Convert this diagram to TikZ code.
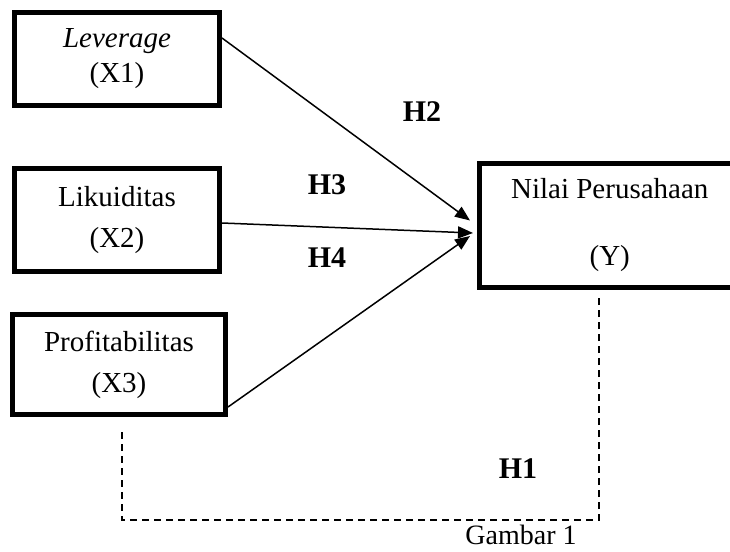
\documentclass[tikz,border=0pt]{standalone}
\usepackage{fontspec}
\setmainfont{Liberation Serif}
\usetikzlibrary{arrows.meta}
\tikzset{
  varbox/.style={draw, line width=5pt, rectangle, inner sep=0pt, align=center,
    font=\fontsize{29}{35}\selectfont},
  arr/.style={line width=1.5pt, -{Triangle[length=15pt,width=12pt]}},
  dsh/.style={line width=1.5pt, dash pattern=on 7pt off 5pt},
  hyp/.style={font=\fontsize{30}{36}\selectfont\bfseries, inner sep=0pt},
  figcap/.style={font=\fontsize{28}{34}\selectfont, inner sep=0pt}
}
\begin{document}
\begin{tikzpicture}[x=1pt,y=-1pt]
\clip (0,0) rectangle (730,551);
\useasboundingbox (0,0) rectangle (730,551);
\node[varbox, minimum width=205pt, minimum height=93pt] (x1) at (117,59)
  {\textit{Leverage}\\(X1)};
\node[varbox, minimum width=205pt, minimum height=103pt] (x2) at (117,220)
  {Likuiditas\\[6pt](X2)};
\node[varbox, minimum width=213pt, minimum height=100pt] (x3) at (119,364.5)
  {Profitabilitas\\[6pt](X3)};
\node[varbox, minimum width=260.5pt, minimum height=124pt] (y) at (609.75,225.5)
  {Nilai Perusahaan\\[32pt](Y)};
\draw[arr] ([yshift=21pt]x1.east) -- ([xshift=-7pt,yshift=5pt]y.west);
\draw[arr] ([yshift=-3pt]x2.east) -- ([xshift=-4pt,yshift=-7.5pt]y.west);
\draw[arr] ([yshift=10pt]x3.south east) -- ([xshift=-7pt,yshift=-10.5pt]y.west);
\coordinate (d1) at (122,432);
\coordinate (d2) at (599,520);
\coordinate (d3) at (599,298);
\draw[dsh] (d1) |- (d2) -- (d3);
\node[hyp] (h2) at (422,112) {H2};
\node[hyp] (h3) at (327,185) {H3};
\node[hyp] (h4) at (327,258) {H4};
\node[hyp] (h1) at (518,469) {H1};
\node[figcap] (g) at (521,535) {Gambar 1};
\end{tikzpicture}
\end{document}
